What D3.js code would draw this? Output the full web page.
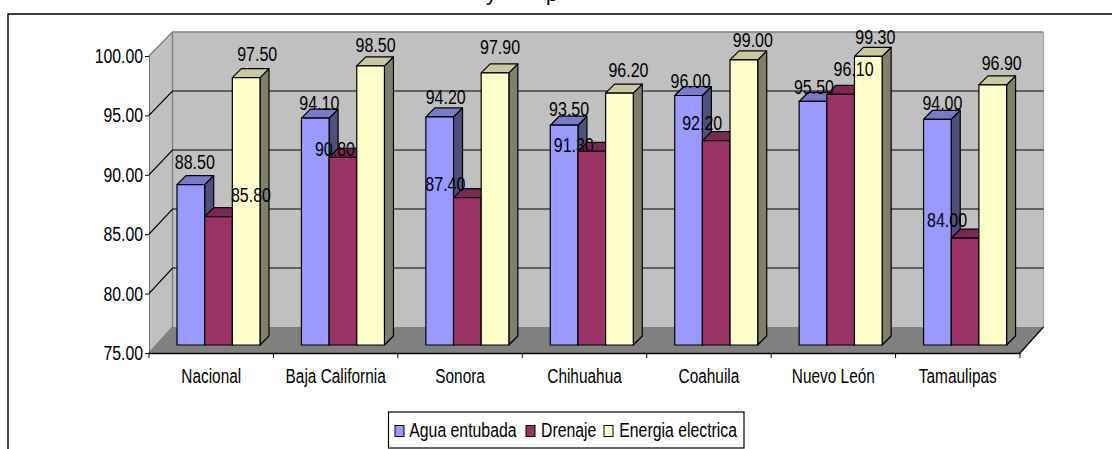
<!DOCTYPE html>
<html>
<head>
<meta charset="utf-8">
<script src="https://cdn.jsdelivr.net/npm/d3@7/dist/d3.min.js"></script>
<style>
html,body{margin:0;padding:0;background:#fff;overflow:hidden}
svg{display:block}
text{font-family:"Liberation Sans",Arial,sans-serif;fill:#000}
</style>
</head>
<body>
<svg id="chart" width="1112" height="449"></svg>
<script>
const categories = ["Nacional","Baja California","Sonora","Chihuahua","Coahuila","Nuevo León","Tamaulipas"];
const seriesNames = ["Agua entubada","Drenaje","Energia electrica"];
const aguaEntubada = [88.5,94.1,94.2,93.5,96.0,95.5,94.0];
const drenaje = [85.8,90.8,87.4,91.3,92.2,96.1,84.0];
const energiaElectrica = [97.5,98.5,97.9,96.2,99.0,99.3,96.9];
const yTicks = [75,80,85,90,95,100];
const faceColors = ["#9999ff","#993366","#ffffcc"];
const topColors = ["#7a7ac9","#7a2851","#c9c9a1"];
const sideColors = ["#50507f","#50203a","#80806a"];

// Hand-placed nudges of the value labels, per series, relative to each bar's top centre
const labelDx = [[4,4,6,5,2,1,5],[32.5,-8,-22,-18,-14,13,-18],[11,5,5,9,9,7,9]];
const labelDy = [[-15.6,-8,-13,-9,-7.5,-7.5,-9],[-15,-1,-7,0.5,-10.7,-18,-11.4],[-16.7,-14,-19,-16,-13,-12,-15]];

const svg = d3.select("#chart");
const ink = "#000";
const fontSize = 20;

// Condense a text selection horizontally, as the chart's narrow lettering requires
function condense(sel, ratio = 0.79) {
  sel.attr("font-size", fontSize).attr("font-family", '"Liberation Sans",Arial,sans-serif')
    .each(function () {
      this.setAttribute("lengthAdjust", "spacingAndGlyphs");
      this.setAttribute("textLength", this.getComputedTextLength() * ratio);
    });
}

// Three planes of the oblique projection: front axis, back wall and bar front
const yAxisFront = d3.scaleLinear().domain([75,100]).range([353,56]);
const yWall = d3.scaleLinear().domain([75,100]).range([327,32]);
const yBar = d3.scaleLinear().domain([75,100]).range([345,48]);
const xCat = d3.scaleBand().domain(categories).range([149,1020]);
const xSeries = d3.scaleBand().domain(seriesNames).range([28,111]);
const wallDx = 23.5, depth = 9;

// Frame: only its top and left edges fall inside the page
svg.append("path").attr("d","M8,449V14H1112").attr("fill","none").attr("stroke",ink).attr("stroke-width",1.4);

// Title, almost entirely hidden above the page's top edge
const title = svg.append("text").attr("y",1).attr("font-size",21);
title.append("tspan").attr("x",486).text("y");
title.append("tspan").attr("x",546).text("p");

// Back wall, side wall and floor
const x0 = xCat.range()[0], x1 = xCat.range()[1];
svg.append("rect").attr("x",x0+wallDx).attr("y",yWall(100)).attr("width",x1-x0).attr("height",yWall(75)-yWall(100)).attr("fill","#c0c0c0");
svg.append("path").attr("d",`M${x0},${yAxisFront(100)}L${x0+wallDx},${yWall(100)}V${yWall(75)}L${x0},${yAxisFront(75)}Z`).attr("fill","#c0c0c0");
svg.append("path").attr("d",`M${x0},${yAxisFront(75)}L${x0+wallDx},${yWall(75)}H${x1+wallDx}L${x1},${yAxisFront(75)}Z`).attr("fill","#808080");
svg.append("path").attr("d",`M${x0},${yAxisFront(75)}L${x0+wallDx},${yWall(75)}V${yWall(100)}H${x1+wallDx}M${x0},${yAxisFront(100)}L${x0+wallDx},${yWall(100)}`).attr("fill","none").attr("stroke","#808080").attr("stroke-width",1.4);
svg.append("path").attr("d",`M${x1+wallDx},${yWall(100)}V${yWall(75)}`).attr("stroke","#a6a6a6").attr("stroke-width",1.2);

// Gridlines run across the back wall and step down the side wall
yTicks.filter(d=>d>75&&d<100).forEach(d=>{
  svg.append("path").attr("d",`M${x0},${yAxisFront(d)}L${x0+wallDx},${yWall(d)}H${x1+wallDx}`).attr("fill","none").attr("stroke",ink).attr("stroke-width",1.2);
});
svg.append("path").attr("d",`M${x1},${yAxisFront(75)}L${x1+wallDx},${yWall(75)}`).attr("stroke",ink).attr("stroke-width",1.2);

// Value axis
const yAxisG = svg.append("g").attr("transform",`translate(${x0},0)`).call(d3.axisLeft(yAxisFront).tickValues(yTicks).tickFormat(d3.format(".2f")).tickSize(4).tickPadding(2));
yAxisG.select(".domain").attr("stroke",ink).attr("stroke-width",0.8).attr("stroke-opacity",0.5);
yAxisG.selectAll("line").attr("stroke",ink);
condense(yAxisG.selectAll("text"));

// Category axis
const xAxisG = svg.append("g").attr("transform",`translate(0,${yAxisFront(75)})`).call(d3.axisBottom(xCat).tickSize(0).tickPadding(15.8));
xAxisG.select(".domain").attr("stroke",ink).attr("stroke-width",1.4);
condense(xAxisG.selectAll("text"), 0.77);
categories.concat([null]).forEach(c=>{
  const x = c === null ? x1 : xCat(c);
  xAxisG.append("line").attr("x1",x).attr("x2",x).attr("y1",0).attr("y2",5).attr("stroke",ink);
});

// Bars, with the side and top faces drawn before the front so nearer faces overlap correctly
const allSeries = [aguaEntubada,drenaje,energiaElectrica];
const labels = [];
categories.forEach((c,ci)=>{
  allSeries.forEach((vals,si)=>{
    const v = vals[ci];
    const bx = xCat(c)+xSeries(seriesNames[si]);
    const bw = xSeries.bandwidth();
    const top = yBar(v), base = yBar(75);
    const g = svg.append("g").attr("stroke",ink).attr("stroke-width",1.2).attr("stroke-linejoin","round");
    g.append("path").attr("d",`M${bx+bw},${top}l${depth},${-depth}V${base-depth}l${-depth},${depth}Z`).attr("fill",sideColors[si]);
    g.append("path").attr("d",`M${bx},${top}l${depth},${-depth}h${bw}l${-depth},${depth}Z`).attr("fill",topColors[si]);
    g.append("rect").attr("x",bx).attr("y",top).attr("width",bw).attr("height",base-top).attr("fill",faceColors[si]);
    labels.push({x:bx+bw/2+labelDx[si][ci],y:top+labelDy[si][ci],t:d3.format(".2f")(v)});
  });
});

// Value labels sit above everything
const labelSel = svg.append("g").selectAll("text").data(labels).join("text")
  .attr("x",d=>d.x).attr("y",d=>d.y).attr("text-anchor","middle").text(d=>d.t);
condense(labelSel, 0.80);

// Legend
const legend = svg.append("g");
legend.append("rect").attr("x",388.5).attr("y",412).attr("width",355.5).attr("height",36).attr("fill","#fff").attr("stroke",ink).attr("stroke-width",1.2);
const legendX = [395,526,604];
const legendTextX = [409.3,541,619.3];
seriesNames.forEach((n,i)=>{
  legend.append("rect").attr("x",legendX[i]).attr("y",425.5).attr("width",9).attr("height",11).attr("fill",faceColors[i]).attr("stroke",ink);
  const t = legend.append("text").attr("x",legendTextX[i]).attr("y",437).text(n);
  condense(t, 0.79);
});
</script>
</body>
</html>
